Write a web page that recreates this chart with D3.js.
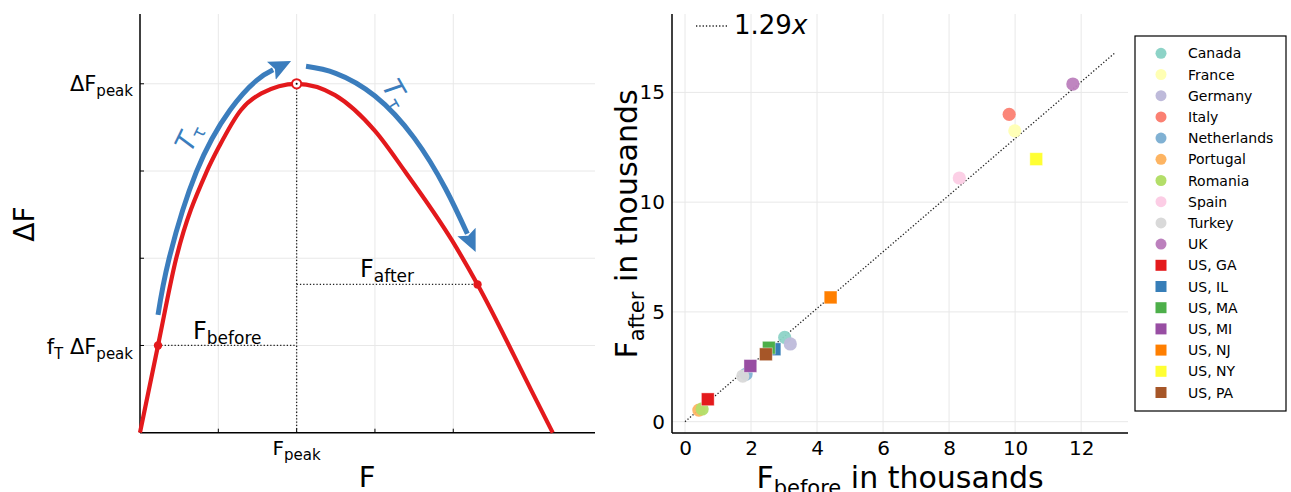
<!DOCTYPE html>
<html><head><meta charset="utf-8">
<script src="https://cdn.jsdelivr.net/npm/d3@7"></script>
<style>body{margin:0;background:#fff} svg{display:block} text{font-family:"DejaVu Sans",sans-serif;fill:#000}</style>
</head><body><svg id="c" width="1291" height="492"></svg>
<script>
// ---- Left panel (schematic) data, in chart units ----
const curveF  = [0, 0.23, 0.46, 0.85, 1.01, 1.29, 1.55, 2.0, 2.49, 3.0, 3.38, 3.98, 4.31, 5.0, 5.27];
const curveDF = [0, 1.0, 1.99, 2.99, 3.28, 3.70, 3.89, 4.0, 3.87, 3.46, 3.0, 2.21, 1.70, 0.48, 0];
const arrowUpF  = [0.23, 0.37, 0.72, 1.15, 1.49, 1.70];
const arrowUpDF = [1.35, 1.99, 2.99, 3.70, 4.04, 4.16];
const arrowDownF  = [2.12, 2.5, 3.0, 3.5, 3.9, 4.18];
const arrowDownDF = [4.20, 4.12, 3.86, 3.38, 2.80, 2.28];
const peakF = 2.0, peakDF = 4.0;
const beforeF = 0.23, beforeDF = 1.0;
const afterF = 4.31, afterDF = 1.70;
const leftGridX = [1, 2, 3, 4];
const leftGridY = [1, 2, 3, 4];

// ---- Right panel data ----
const regions = ["Canada","France","Germany","Italy","Netherlands","Portugal","Romania","Spain","Turkey","UK",
                 "US, GA","US, IL","US, MA","US, MI","US, NJ","US, NY","US, PA"];
const fBefore = [3.02, 9.99, 3.19, 9.82, 1.85, 0.42, 0.52, 8.31, 1.75, 11.75, 0.69, 2.71, 2.54, 1.98, 4.41, 10.64, 2.45];
const fAfter  = [3.84, 13.25, 3.54, 14.0, 2.17, 0.53, 0.58, 11.1, 2.08, 15.38, 1.02, 3.30, 3.37, 2.54, 5.66, 11.96, 3.07];
const isState = [0,0,0,0,0,0,0,0,0,0,1,1,1,1,1,1,1];
const colors = ["#8dd3c7","#ffffb3","#bebada","#fb8072","#80b1d3","#fdb462","#b3de69","#fccde5","#d9d9d9","#bc80bd",
                "#e41a1c","#377eb8","#4daf4a","#984ea3","#ff7f00","#ffff33","#a65628"];
const slope = 1.29;
const fitRange = [0, 13.05];
const xTicksR = [0, 2, 4, 6, 8, 10, 12];
const yTicksR = [0, 5, 10, 15];

const svg = d3.select("#c");
const RED = "#e3191c", BLUE = "#3b7dbd";

// ================= LEFT PANEL =================
const xL = d3.scaleLinear().domain([0, 5.81]).range([140, 595]);
const yL = d3.scaleLinear().domain([0, 4.8]).range([432.7, 14]);
const L = svg.append("g");

L.selectAll(".gx").data(leftGridX).enter().append("line")
  .attr("x1", d => xL(d)).attr("x2", d => xL(d)).attr("y1", yL(0)).attr("y2", yL(4.8))
  .attr("stroke", "#e8e8e8").attr("stroke-width", 1);
L.selectAll(".gy").data(leftGridY).enter().append("line")
  .attr("x1", xL(0)).attr("x2", xL(5.81)).attr("y1", d => yL(d)).attr("y2", d => yL(d))
  .attr("stroke", "#e8e8e8").attr("stroke-width", 1);
L.selectAll(".tx").data(leftGridX).enter().append("line")
  .attr("x1", d => xL(d)).attr("x2", d => xL(d)).attr("y1", yL(0)).attr("y2", yL(0) - 4)
  .attr("stroke", "#000").attr("stroke-width", 1);
L.selectAll(".ty").data(leftGridY).enter().append("line")
  .attr("x1", xL(0)).attr("x2", xL(0) + 4).attr("y1", d => yL(d)).attr("y2", d => yL(d))
  .attr("stroke", "#000").attr("stroke-width", 1);

const dot = sel => sel.attr("stroke", "#222").attr("stroke-width", 1.3).attr("stroke-dasharray", "1.3,2");
L.append("line").attr("x1", xL(peakF)).attr("x2", xL(peakF)).attr("y1", yL(0)).attr("y2", yL(peakDF)).call(dot);
L.append("line").attr("x1", xL(beforeF)).attr("x2", xL(peakF)).attr("y1", yL(beforeDF)).attr("y2", yL(beforeDF)).call(dot);
L.append("line").attr("x1", xL(peakF)).attr("x2", xL(afterF)).attr("y1", yL(afterDF)).attr("y2", yL(afterDF)).call(dot);

L.append("line").attr("x1", xL(0)).attr("x2", xL(0)).attr("y1", yL(0)).attr("y2", yL(4.8)).attr("stroke", "#000").attr("stroke-width", 1.5);
L.append("line").attr("x1", xL(0)).attr("x2", xL(5.81)).attr("y1", yL(0)).attr("y2", yL(0)).attr("stroke", "#000").attr("stroke-width", 1.5);

const lineL = d3.line().x(d => xL(d[0])).y(d => yL(d[1])).curve(d3.curveMonotoneX);
L.append("path").datum(curveF.map((f, i) => [f, curveDF[i]]))
  .attr("d", lineL).attr("fill", "none").attr("stroke", RED).attr("stroke-width", 4.2);

const defs = svg.append("defs");
defs.append("marker").attr("id", "ah").attr("markerUnits", "userSpaceOnUse")
  .attr("viewBox", "0 0 22 22").attr("markerWidth", 22).attr("markerHeight", 22)
  .attr("refX", 2).attr("refY", 11).attr("orient", "auto")
  .append("path").attr("d", "M0,1 L22,11 L0,21 L4,11 Z").attr("fill", BLUE);
const lineA = d3.line().x(d => xL(d[0])).y(d => yL(d[1])).curve(d3.curveNatural);
L.append("path").datum(arrowUpF.map((f, i) => [f, arrowUpDF[i]]))
  .attr("d", lineA).attr("fill", "none").attr("stroke", BLUE).attr("stroke-width", 5).attr("marker-end", "url(#ah)");
L.append("path").datum(arrowDownF.map((f, i) => [f, arrowDownDF[i]]))
  .attr("d", lineA).attr("fill", "none").attr("stroke", BLUE).attr("stroke-width", 5).attr("marker-end", "url(#ah)");

function tau(x, y, ang) {
  const t = L.append("text").attr("transform", `translate(${x},${y}) rotate(${ang})`)
    .attr("text-anchor", "middle").style("fill", BLUE).attr("font-size", 27);
  t.append("tspan").attr("font-style", "italic").text("T");
  t.append("tspan").attr("font-size", 18).attr("dy", 4).text("τ");
}
tau(197, 141, -64);
tau(388, 98, 60);

L.append("circle").attr("cx", xL(beforeF)).attr("cy", yL(beforeDF)).attr("r", 4.2).attr("fill", RED);
L.append("circle").attr("cx", xL(afterF)).attr("cy", yL(afterDF)).attr("r", 4.2).attr("fill", RED);
L.append("circle").attr("cx", xL(peakF)).attr("cy", yL(peakDF)).attr("r", 4.6).attr("fill", "#fff").attr("stroke", RED).attr("stroke-width", 2);
L.append("circle").attr("cx", xL(peakF)).attr("cy", yL(peakDF)).attr("r", 1).attr("fill", "#000");

function subText(g, x, y, main, sub, size, subSize, anchor, shift) {
  const t = g.append("text").attr("x", x).attr("y", y).attr("font-size", size).attr("text-anchor", anchor || "start");
  t.append("tspan").text(main);
  t.append("tspan").attr("font-size", subSize).attr("dy", shift).text(sub);
  return t;
}
subText(L, 193, 339, "F", "before", 24, 17, "start", 5);
subText(L, 360, 277, "F", "after", 24, 17, "start", 5);
subText(L, 133, 91, "ΔF", "peak", 21, 15, "end", 5);
{
  const t = L.append("text").attr("x", 133).attr("y", 354).attr("font-size", 21).attr("text-anchor", "end");
  t.append("tspan").text("f");
  t.append("tspan").attr("font-size", 15).attr("dy", 5).text("T");
  t.append("tspan").attr("dy", -5).text(" ΔF");
  t.append("tspan").attr("font-size", 15).attr("dy", 5).text("peak");
}
subText(L, xL(peakF), 455, "F", "peak", 20, 15, "middle", 5);
L.append("text").attr("x", 367).attr("y", 487).attr("font-size", 29).attr("text-anchor", "middle").text("F");
L.append("text").attr("transform", "translate(34,224) rotate(-90)").attr("font-size", 28).attr("text-anchor", "middle").text("ΔF");

// ================= RIGHT PANEL =================
const xR = d3.scaleLinear().domain([-0.394, 13.42]).range([672, 1128]);
const yR = d3.scaleLinear().domain([-0.515, 18.57]).range([433, 14]);
const R = svg.append("g");
R.selectAll(".gx").data(xTicksR).enter().append("line")
  .attr("x1", d => xR(d)).attr("x2", d => xR(d)).attr("y1", yR(-0.515)).attr("y2", yR(18.57))
  .attr("stroke", "#e8e8e8");
R.selectAll(".gy").data(yTicksR).enter().append("line")
  .attr("x1", xR(-0.394)).attr("x2", xR(13.42)).attr("y1", d => yR(d)).attr("y2", d => yR(d))
  .attr("stroke", "#e8e8e8");

const axB = d3.axisBottom(xR).tickValues(xTicksR).tickSize(0).tickPadding(8).tickFormat(d3.format("d"));
const axLf = d3.axisLeft(yR).tickValues(yTicksR).tickSize(0).tickPadding(7).tickFormat(d3.format("d"));
const gb = R.append("g").attr("transform", "translate(0,433)").call(axB);
const gl = R.append("g").attr("transform", "translate(672,0)").call(axLf);
[gb, gl].forEach(g => {
  g.select(".domain").attr("stroke", "#000").attr("stroke-width", 1.5);
  g.selectAll("text").attr("font-size", 20).attr("font-family", "DejaVu Sans").style("fill", "#000");
});
gl.select(".domain").attr("d", "M0,14V433");
gb.select(".domain").attr("d", "M672,0H1128");

R.append("line").attr("x1", xR(fitRange[0])).attr("y1", yR(slope * fitRange[0]))
  .attr("x2", xR(fitRange[1])).attr("y2", yR(slope * fitRange[1])).call(dot);

const pts = regions.map((r, i) => ({ r, x: fBefore[i], y: fAfter[i], sq: isState[i], c: colors[i] }));
pts.forEach(p => {
  if (p.sq) {
    R.append("rect").attr("x", xR(p.x) - 6.4).attr("y", yR(p.y) - 6.4).attr("width", 12.8).attr("height", 12.8)
      .attr("fill", p.c).attr("stroke", "#fff").attr("stroke-opacity", 0.5).attr("stroke-width", 0.8);
  } else {
    R.append("circle").attr("cx", xR(p.x)).attr("cy", yR(p.y)).attr("r", 6.6).attr("fill", p.c).attr("fill-opacity", 0.95);
  }
});

R.append("line").attr("x1", 696).attr("x2", 729).attr("y1", 26).attr("y2", 26).call(dot);
{
  const t = R.append("text").attr("x", 734).attr("y", 34).attr("font-size", 26);
  t.append("tspan").text(d3.format(".2f")(slope));
  t.append("tspan").attr("font-style", "italic").text("x");
}

{
  const t = R.append("text").attr("x", 900).attr("y", 488).attr("font-size", 30).attr("text-anchor", "middle");
  t.append("tspan").text("F");
  t.append("tspan").attr("font-size", 21).attr("dy", 7).text("before");
  t.append("tspan").attr("dy", -7).text(" in thousands");
}
{
  const t = R.append("text").attr("transform", "translate(637,224) rotate(-90)").attr("font-size", 30).attr("text-anchor", "middle");
  t.append("tspan").text("F");
  t.append("tspan").attr("font-size", 21).attr("dy", 7).text("after");
  t.append("tspan").attr("dy", -7).text(" in thousands");
}

const lg = svg.append("g");
lg.append("rect").attr("x", 1135).attr("y", 36).attr("width", 151).attr("height", 375)
  .attr("fill", "#fff").attr("stroke", "#000").attr("stroke-width", 1.2);
pts.forEach((p, i) => {
  const y = 53.3 + i * 21.2;
  if (p.sq) lg.append("rect").attr("x", 1161 - 5.5).attr("y", y - 5.5).attr("width", 11).attr("height", 11).attr("fill", p.c);
  else lg.append("circle").attr("cx", 1161).attr("cy", y).attr("r", 5.5).attr("fill", p.c);
  lg.append("text").attr("x", 1188).attr("y", y + 5).attr("font-size", 14).text(p.r);
});
</script></body></html>
